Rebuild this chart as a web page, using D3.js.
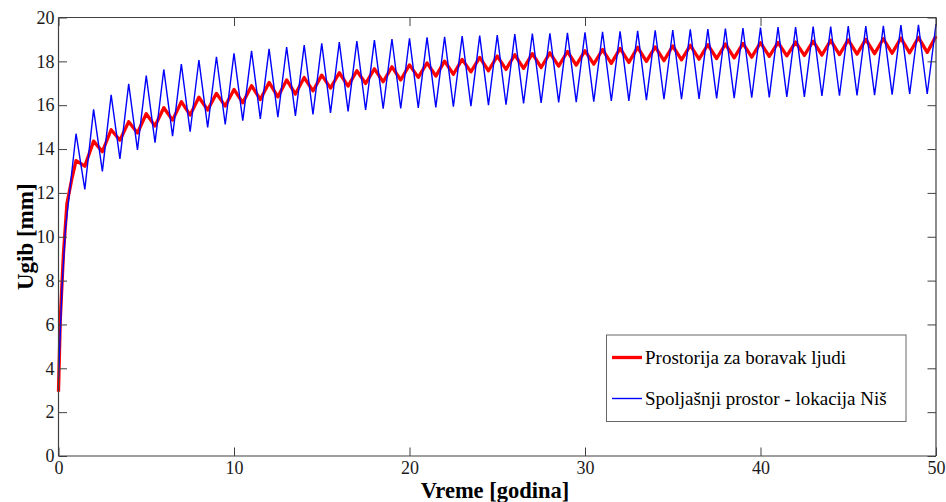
<!DOCTYPE html>
<html><head><meta charset="utf-8">
<script src="https://cdn.jsdelivr.net/npm/d3@7"></script>
<style>
html,body{margin:0;padding:0;background:#fff;}
svg{display:block;}
text{font-family:"Liberation Serif","Times New Roman",serif;}
</style></head>
<body><svg id="c" width="946" height="502"></svg>
<script>
// ---- data ----
const xTicks = [0,10,20,30,40,50];
const yTicks = [0,2,4,6,8,10,12,14,16,18,20];
const seriesNames = ["Prostorija za boravak ljudi","Spoljašnji prostor - lokacija Niš"];

// initial rise [year, mm]
const redStart  = [[0,2.93],[0.1,6.2],[0.28,9.2],[0.48,11.5],[0.75,12.6]];
const blueStart = [[0,3.5],[0.2,7.7],[0.4,10.4],[0.6,11.8]];

// peaks at whole years 1..50
const redPeaks = [13.47,14.36,14.88,15.25,15.61,15.88,16.16,16.36,16.54,16.72,
  16.89,17.04,17.15,17.26,17.37,17.48,17.57,17.66,17.75,17.84,
  17.93,18.01,18.09,18.18,18.24,18.30,18.35,18.39,18.45,18.48,
  18.54,18.59,18.64,18.66,18.70,18.73,18.76,18.79,18.82,18.85,
  18.86,18.88,18.92,18.96,18.98,19.00,19.03,19.06,19.09,19.15];
// troughs at half years 1.5..49.5
const redTroughs = [13.22,13.88,14.40,14.73,15.05,15.32,15.55,15.78,15.96,16.11,
  16.26,16.38,16.51,16.65,16.78,16.87,16.99,17.07,17.15,17.27,
  17.33,17.41,17.52,17.57,17.63,17.68,17.72,17.78,17.83,17.87,
  17.91,17.95,18.00,18.03,18.07,18.10,18.13,18.16,18.19,18.23,
  18.25,18.27,18.29,18.31,18.33,18.35,18.37,18.39,18.41];

const bluePeaks = [14.70,15.81,16.47,16.97,17.35,17.63,17.87,18.06,18.21,18.36,
  18.48,18.57,18.65,18.74,18.82,18.88,18.92,18.97,19.02,19.05,
  19.09,19.12,19.15,19.17,19.20,19.24,19.27,19.28,19.30,19.32,
  19.35,19.37,19.39,19.42,19.43,19.46,19.47,19.50,19.52,19.54,
  19.56,19.56,19.58,19.59,19.61,19.61,19.62,19.65,19.67,19.70];
const blueTroughs = [12.16,12.98,13.55,13.96,14.29,14.59,14.79,14.99,15.12,15.30,
  15.38,15.45,15.51,15.58,15.65,15.72,15.78,15.84,15.85,15.88,
  15.90,15.93,15.96,16.00,16.02,16.08,16.11,16.13,16.14,16.16,
  16.19,16.20,16.23,16.27,16.27,16.29,16.31,16.32,16.34,16.36,
  16.38,16.38,16.42,16.43,16.45,16.46,16.48,16.51,16.51];

function build(start, peaks, troughs){
  const pts = start.map(d=>({t:d[0],v:d[1]}));
  peaks.forEach((p,i)=>{
    pts.push({t:i+1, v:p});
    if(i<troughs.length) pts.push({t:i+1.5, v:troughs[i]});
  });
  return pts;
}
const redData = build(redStart, redPeaks, redTroughs);
const blueData = build(blueStart, bluePeaks, blueTroughs);

// ---- layout ----
const L=58.5, R=936, T=17.5, B=456;
const svg = d3.select("#c");
const x = d3.scaleLinear().domain([0,50]).range([L,R]);
const y = d3.scaleLinear().domain([0,20]).range([B,T]);
const axCol = "#404040";
const serif = '"Liberation Serif","Times New Roman",serif';

const line = d3.line().x(d=>x(d.t)).y(d=>y(d.v));
svg.append("path").datum(redData).attr("d",line)
  .attr("fill","none").attr("stroke","#ff0000").attr("stroke-width",3.3).attr("stroke-linejoin","round");
svg.append("path").datum(blueData).attr("d",line)
  .attr("fill","none").attr("stroke","#0000ff").attr("stroke-width",1.4).attr("stroke-linejoin","miter");

// axes (ticks inside, MATLAB style)
const tl = 8.5;
const gB = svg.append("g").attr("transform",`translate(0,${B})`)
  .call(d3.axisBottom(x).tickValues(xTicks).tickSize(-tl).tickPadding(5).tickFormat(d3.format("d")));
const gT = svg.append("g").attr("transform",`translate(0,${T})`)
  .call(d3.axisTop(x).tickValues(xTicks).tickSize(-tl).tickFormat(""));
const gL = svg.append("g").attr("transform",`translate(${L},0)`)
  .call(d3.axisLeft(y).tickValues(yTicks).tickSize(-tl).tickPadding(4).tickFormat(d3.format("d")));
const gR = svg.append("g").attr("transform",`translate(${R},0)`)
  .call(d3.axisRight(y).tickValues(yTicks).tickSize(-tl).tickFormat(""));
[gB,gT,gL,gR].forEach(g=>{
  g.attr("font-family",serif);
  g.select(".domain").attr("stroke",axCol).attr("stroke-width",1.2);
  g.selectAll(".tick line").attr("stroke",axCol).attr("stroke-width",1);
  g.selectAll(".tick text").attr("fill","#1a1a1a").style("font-size","18px")
   .style("font-family",serif);
});
gB.selectAll(".domain").attr("d",`M${L},0H${R}`);
gT.selectAll(".domain").attr("d",`M${L},0H${R}`);
gL.selectAll(".domain").attr("d",`M0,${B}V${T}`);
gR.selectAll(".domain").attr("d",`M0,${B}V${T}`);

// axis labels
svg.append("text").attr("x",495).attr("y",498).attr("text-anchor","middle")
  .style("font-size","22.5px").style("font-weight","bold").style("font-family",serif)
  .attr("fill","#000").text("Vreme [godina]");
svg.append("text").attr("transform",`translate(33,${(T+B)/2}) rotate(-90)`).attr("text-anchor","middle")
  .style("font-size","23px").style("font-weight","bold").style("font-family",serif)
  .attr("fill","#000").text("Ugib [mm]");

// legend
const lg = svg.append("g");
lg.append("rect").attr("x",606.5).attr("y",335).attr("width",299.5).attr("height",86.5)
  .attr("fill","#fff").attr("stroke","#666").attr("stroke-width",1);
const legItems = [{name:seriesNames[0],col:"#ff0000",w:3.3,yy:357.5},{name:seriesNames[1],col:"#0000ff",w:1.4,yy:398.5}];
legItems.forEach(it=>{
  lg.append("line").attr("x1",612).attr("x2",642).attr("y1",it.yy).attr("y2",it.yy)
    .attr("stroke",it.col).attr("stroke-width",it.w);
  lg.append("text").attr("x",645).attr("y",it.yy+6.5).style("font-size","19px")
    .style("font-family",serif).attr("fill","#000").text(it.name);
});
</script></body></html>
